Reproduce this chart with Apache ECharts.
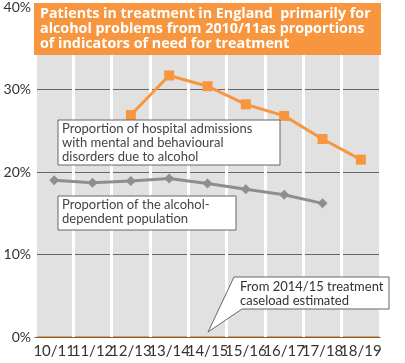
<!DOCTYPE html>
<html><head><meta charset="utf-8">
<script src="https://cdn.jsdelivr.net/npm/echarts@6/dist/echarts.min.js"></script>
<style>html,body{margin:0;padding:0;background:#fff}#c{width:405px;height:363px}</style>
</head><body><div id="c"></div>
<script>
var categories = ['10/11','11/12','12/13','13/14','14/15','15/16','16/17','17/18','18/19'];
var hospitalAdmissions = [null, null, 26.9, 31.7, 30.4, 28.2, 26.8, 24.0, 21.5];
var dependentPopulation = [19.0, 18.7, 18.9, 19.2, 18.6, 17.9, 17.25, 16.2, null];
var yTicks = [0, 10, 20, 30, 40];
var titleLines = ['Patients in treatment in England  primarily for', 'alcohol problems from 2010/11as proportions', 'of indicators of need for treatment'];
var labelHospital = ['Proportion of hospital admissions', 'with mental and behavioural', 'disorders due to alcohol'];
var labelDependent = ['Proportion of the alcohol-', 'dependent population'];
var labelNote = ['From 2014/15 treatment', 'caseload estimated'];

var ORANGE = '#F7963F', GREY = '#8E8E8E', FONT = 'Lato, "DejaVu Sans", sans-serif';
var chart = echarts.init(document.getElementById('c'));

function box(x, y, w, h, lines, fs, lh) {
  return [
    { type: 'rect', z: 200, shape: { x: x, y: y, width: w, height: h }, style: { fill: '#fff', stroke: '#666', lineWidth: 1 } },
    { type: 'text', z: 201, x: x + 4, y: y + 2, style: { text: lines.join('\n'), font: fs + 'px ' + FONT, fill: '#444', lineHeight: lh } }
  ];
}

chart.setOption({
  animation: false,
  grid: { left: 35, right: 25, top: 4, bottom: 26, show: true, backgroundColor: '#E1E1E1', borderColor: ORANGE, borderWidth: 2 },
  xAxis: {
    type: 'category', data: categories, boundaryGap: true, z: 3,
    axisLine: { show: false }, axisTick: { show: false },
    axisLabel: { interval: 0, color: '#333', fontSize: 15, fontFamily: FONT, margin: 7 },
    splitLine: { show: true, interval: 0, lineStyle: { color: '#fff', width: 3 } }
  },
  yAxis: {
    type: 'value', min: yTicks[0], max: yTicks[yTicks.length - 1], interval: 10, z: 1,
    axisLine: { show: false }, axisTick: { show: false },
    axisLabel: { color: '#333', fontSize: 14, fontFamily: FONT, formatter: '{value}%', margin: 4 },
    splitLine: { show: true, lineStyle: { color: '#666', width: 1 } }
  },
  series: [
    { type: 'line', data: hospitalAdmissions, z: 10, symbol: 'rect', symbolSize: 10,
      lineStyle: { color: ORANGE, width: 3 }, itemStyle: { color: ORANGE }, connectNulls: false },
    { type: 'line', data: dependentPopulation, z: 10, symbol: 'diamond', symbolSize: 10,
      lineStyle: { color: GREY, width: 3 }, itemStyle: { color: GREY }, connectNulls: false }
  ],
  graphic: [
    { type: 'rect', z: 200, shape: { x: 34, y: 3, width: 347, height: 52 }, style: { fill: ORANGE } },
    { type: 'text', z: 201, x: 40, y: 7, style: { text: titleLines.join('\n'), font: 'bold 14.3px "Open Sans", sans-serif', fill: '#fff', lineHeight: 14.6 } }
  ].concat(box(58, 120, 222, 45, labelHospital, 13, 14))
   .concat(box(58, 196, 178, 34, labelDependent, 13, 14))
   .concat([
    { type: 'polygon', z: 200, shape: { points: [[208,332],[234,277],[389,277],[389,309],[242,309]] }, style: { fill: '#fff', stroke: '#666', lineWidth: 1 } },
    { type: 'text', z: 201, x: 240, y: 280, style: { text: labelNote.join('\n'), font: '13px ' + FONT, fill: '#333', lineHeight: 14 } }
  ])
});
</script></body></html>
